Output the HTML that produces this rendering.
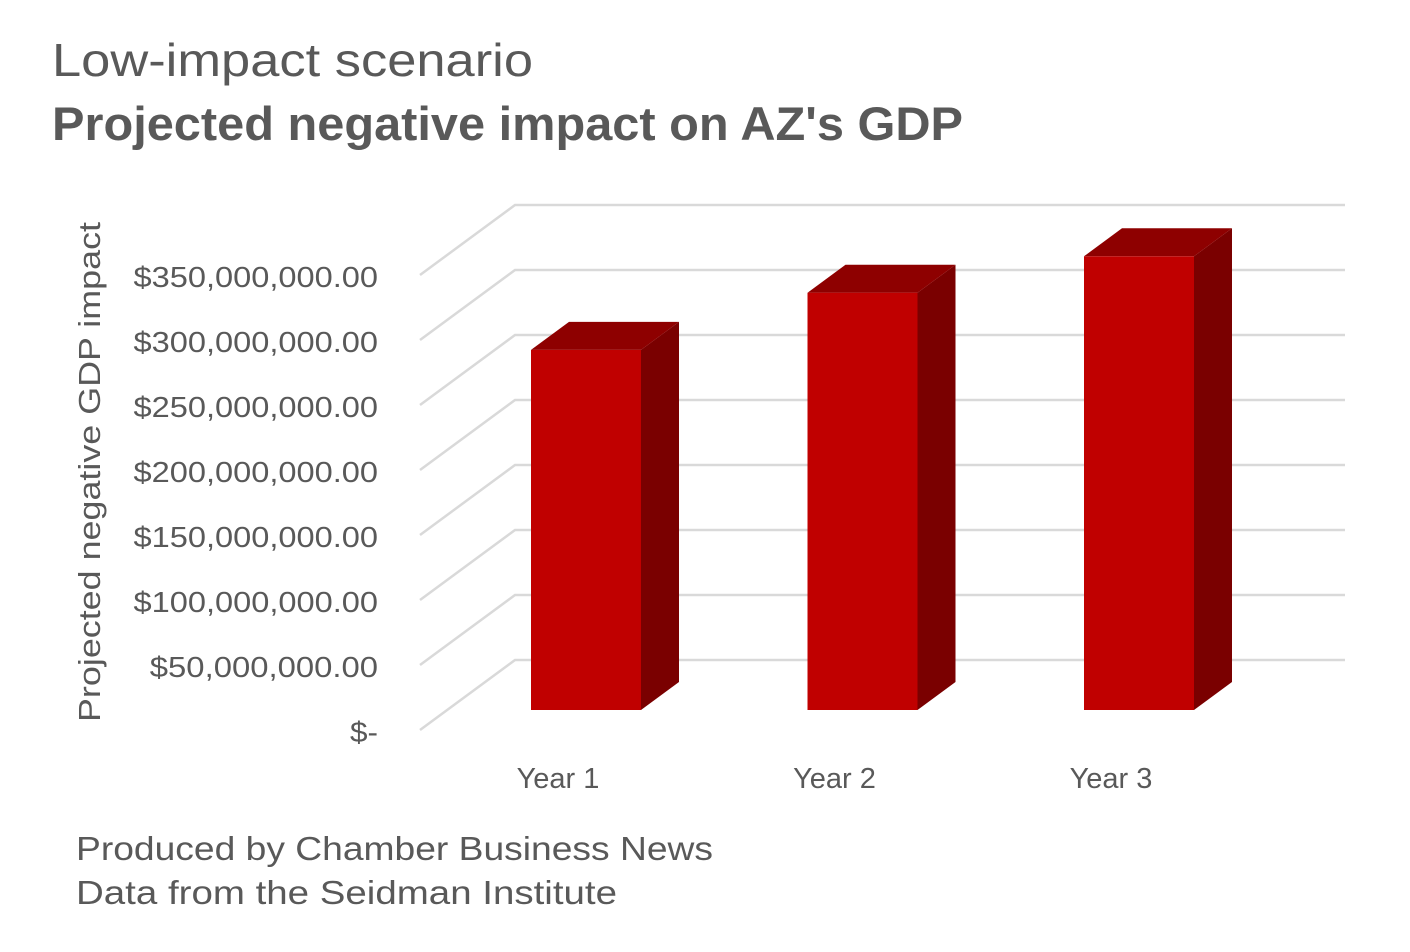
<!DOCTYPE html>
<html><head><meta charset="utf-8"><style>
body{margin:0;background:#fff;width:1410px;height:952px;overflow:hidden;font-family:"Liberation Sans",sans-serif;}
svg{display:block}
</style></head><body>
<svg width="1410" height="952">
<text x="52" y="76" font-size="46" fill="#595959" textLength="481" lengthAdjust="spacingAndGlyphs">Low-impact scenario</text>
<text x="52" y="140" font-size="47" font-weight="bold" fill="#595959" textLength="911" lengthAdjust="spacingAndGlyphs">Projected negative impact on AZ's GDP</text>
<g id="grid"></g>
<g id="ylabels" font-size="29" fill="#595959"></g>
<text transform="translate(100,722) rotate(-90)" font-size="31" fill="#595959" textLength="500" lengthAdjust="spacingAndGlyphs">Projected negative GDP impact</text>
<g id="bars"></g>
<g id="xlabels" font-size="29" fill="#595959" text-anchor="middle"></g>
<text x="76" y="860" font-size="33" fill="#595959" textLength="637" lengthAdjust="spacingAndGlyphs">Produced by Chamber Business News</text>
<text x="76" y="904" font-size="33" fill="#595959" textLength="541" lengthAdjust="spacingAndGlyphs">Data from the Seidman Institute</text>
</svg>
<script>
const categories=["Year 1","Year 2","Year 3"];
const values=[277000000,321000000,349000000];
const ticks=[0,50000000,100000000,150000000,200000000,250000000,300000000,350000000];
const tickLabels=["$-","$50,000,000.00","$100,000,000.00","$150,000,000.00","$200,000,000.00","$250,000,000.00","$300,000,000.00","$350,000,000.00"];
const NS="http://www.w3.org/2000/svg";
function mk(t,a,p){const e=document.createElementNS(NS,t);for(const k in a)e.setAttribute(k,a[k]);p.appendChild(e);return e;}
const px=65/50000000;
function yBack(v){return 660-v*px;}
function yFront(v){return 730-v*px;}
function yBar(v){return 710-v*px;}
const grid=document.getElementById('grid'),yl=document.getElementById('ylabels');
ticks.forEach((t,i)=>{
  const l=mk('polyline',{points:`420,${yFront(t)} 515,${yBack(t)} 1345,${yBack(t)}`,fill:'none',stroke:'#d9d9d9','stroke-width':2.5},grid);
  
  
  const s=tickLabels[i];
  const w=s.length<=2?28:(s.length*16.3);
  const tx=mk('text',{x:378-w,y:yFront(t)+12,textLength:w,lengthAdjust:'spacingAndGlyphs'},yl);tx.textContent=s;
  
  
});
const bars=document.getElementById('bars'),xl=document.getElementById('xlabels');
const x0=531,step=276.5,w=110,dx=38,dy=28;
categories.forEach((c,i)=>{
  const x=x0+i*step,top=yBar(values[i]),b=710;
  const g=mk('g',{},bars);
  
  
  mk('polygon',{points:`${x+w},${top} ${x+w+dx},${top-dy} ${x+w+dx},${b-dy} ${x+w},${b}`,fill:'#7a0000'},g);
  mk('polygon',{points:`${x},${top} ${x+dx},${top-dy} ${x+w+dx},${top-dy} ${x+w},${top}`,fill:'#8e0000'},g);
  mk('rect',{x:x,y:top,width:w,height:b-top,fill:'#c00000'},g);
  const tx=mk('text',{x:x+27,y:788},xl);tx.textContent=c;
  
  
});
</script>
</body></html>
